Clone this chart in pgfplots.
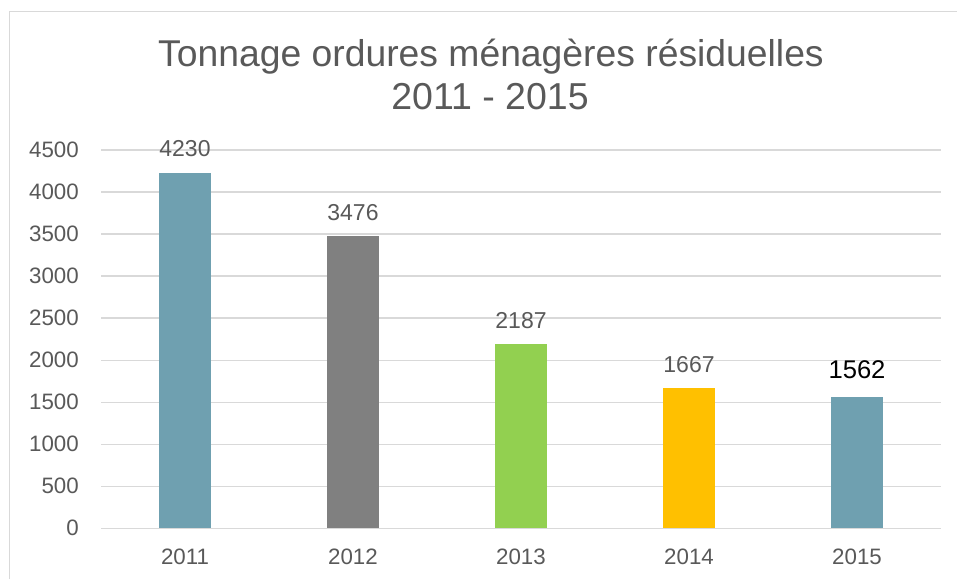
\documentclass[border=0pt]{standalone}
\usepackage{fontspec}
\setmainfont{Liberation Sans}
\usepackage{pgfplots}
\pgfplotsset{compat=1.18}
\definecolor{tealbar}{HTML}{6FA0B0}
\definecolor{greybar}{HTML}{808080}
\definecolor{greenbar}{HTML}{92D050}
\definecolor{orangebar}{HTML}{FFC000}
\definecolor{txt}{HTML}{595959}
\definecolor{gridc}{HTML}{D9D9D9}
\begin{document}
\begin{tikzpicture}
\useasboundingbox (0pt,0pt) rectangle (957pt,579pt);
\fill[white] (0pt,0pt) rectangle (957pt,579pt);
% chart frame (only left and top edges are visible)
\draw[gridc, line width=1.2pt] (9.3pt,0pt) -- (9.3pt,567.7pt) -- (957pt,567.7pt);
\node[anchor=base, text=txt, font=\fontsize{37.3}{45}\selectfont, inner sep=0pt]
  at (491pt,512pt) {Tonnage ordures ménagères résiduelles};
\node[anchor=base, text=txt, font=\fontsize{37.5}{45}\selectfont, inner sep=0pt]
  at (490pt,469pt) {2011 - 2015};
\begin{axis}[
    at={(101pt,50.7pt)}, anchor=south west,
    scale only axis, width=840pt, height=378.3pt,
    xmin=-0.5, xmax=4.5, ymin=0, ymax=4500,
    ytick={0,500,...,4500},
    xtick={0,1,2,3,4},
    xticklabels={2011,2012,2013,2014,2015},
    ybar, bar width=52pt, bar shift=0pt,
    ymajorgrids, grid style={gridc, line width=1.3pt},
    axis line style={draw=none}, tick style={draw=none},
    major tick length=0pt,
    clip=false,
    /pgf/number format/assume math mode=true,
    /pgf/number format/1000 sep={},
    yticklabel style={font=\fontsize{22.3}{26}\selectfont, text=txt,
        anchor=east, inner sep=0pt, xshift=-22pt},
    xticklabel style={font=\fontsize{22.3}{26}\selectfont, text=txt,
        anchor=north, inner sep=0pt, yshift=-20pt},
    nodes near coords,
    every node near coord/.append style={anchor=base, inner sep=0pt,
        yshift=16pt, font=\fontsize{23}{27}\selectfont, text=txt},
]
\addplot[fill=tealbar, draw=none] coordinates {(0,4230)};
\addplot[fill=greybar, draw=none] coordinates {(1,3476)};
\addplot[fill=greenbar, draw=none] coordinates {(2,2187)};
\addplot[fill=orangebar, draw=none] coordinates {(3,1667)};
\addplot[fill=tealbar, draw=none,
    every node near coord/.append style={text=black, yshift=2pt,
        font=\fontsize{25.6}{30}\selectfont}] coordinates {(4,1562)};
\end{axis}
\end{tikzpicture}
\end{document}
